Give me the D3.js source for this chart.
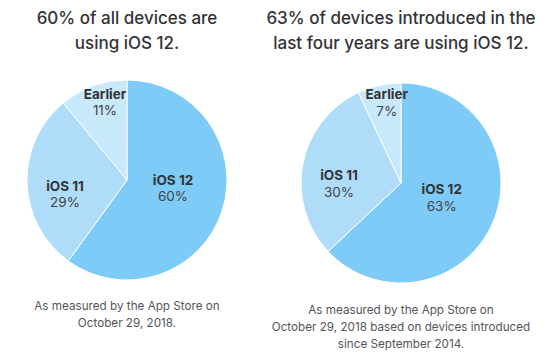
<!DOCTYPE html>
<html>
<head>
<meta charset="utf-8">
<script src="https://cdn.jsdelivr.net/npm/d3@7"></script>
<style>
  html, body { margin: 0; padding: 0; background: #fff; }
  svg { display: block; }
  text { font-family: Inter, "Liberation Sans", Arial, sans-serif; }
</style>
</head>
<body>
<svg id="chart" width="553" height="357"></svg>
<script>
// ---- Data ----
const categories = ["iOS 12", "iOS 11", "Earlier"];
const allDevices = [60, 29, 11];
const recentDevices = [63, 30, 7];
const titleLeft = ["60% of all devices are", "using iOS 12."];
const titleRight = ["63% of devices introduced in the", "last four years are using iOS 12."];
const noteLeft = ["As measured by the App Store on", "October 29, 2018."];
const noteRight = ["As measured by the App Store on", "October 29, 2018 based on devices introduced", "since September 2014."];

// ---- Layout / style ----
const colors = ["#7dcbf6", "#afdcf8", "#c8e8fb"];
const radius = 100;
const panels = [
  { values: allDevices, title: titleLeft, note: noteLeft, cx: 127, cy: 180, noteY: 310,
    labelOffsets: [[46, 4.5], [-62, 10.5], [-22, -81.3]] },
  { values: recentDevices, title: titleRight, note: noteRight, cx: 401, cy: 183, noteY: 313.5,
    labelOffsets: [[40.7, 11], [-62, -3], [-14.3, -83.7]] }
];

const svg = d3.select("#chart");
const pie = d3.pie().sort(null).value(d => d);
const arc = d3.arc().innerRadius(0).outerRadius(radius);
const color = d3.scaleOrdinal().domain(categories).range(colors);

panels.forEach(p => {
  const g = svg.append("g");

  // Title
  const title = g.append("text")
    .attr("text-anchor", "middle")
    .attr("fill", "#333336")
    .attr("font-size", 17)
    .attr("font-weight", 500);
  p.title.forEach((line, i) => {
    title.append("tspan").attr("x", p.cx).attr("y", 23.5 + i * 25).text(line);
  });

  // Pie
  const pg = g.append("g").attr("transform", `translate(${p.cx},${p.cy})`);
  const arcs = pie(p.values);
  pg.selectAll("path")
    .data(arcs)
    .join("path")
    .attr("d", arc)
    .attr("fill", (d, i) => color(categories[i]))
    .attr("stroke", "#ffffff")
    .attr("stroke-width", 1);

  // Labels
  const lab = pg.selectAll("g.lab")
    .data(arcs)
    .join("g")
    .attr("class", "lab")
    .attr("transform", (d, i) => `translate(${p.labelOffsets[i][0]},${p.labelOffsets[i][1]})`);
  lab.append("text")
    .attr("text-anchor", "middle")
    .attr("font-size", 13.5)
    .attr("font-weight", 700)
    .attr("fill", "#333336")
    .text((d, i) => categories[i]);
  lab.append("text")
    .attr("text-anchor", "middle")
    .attr("y", 16.5)
    .attr("font-size", 13.5)
    .attr("font-weight", 400)
    .attr("fill", "#444448")
    .text(d => d.data + "%");

  // Footnote
  const note = g.append("text")
    .attr("text-anchor", "middle")
    .attr("fill", "#555558")
    .attr("font-size", 11.7);
  p.note.forEach((line, i) => {
    note.append("tspan").attr("x", p.cx).attr("y", p.noteY + i * 17).text(line);
  });
});
</script>
</body>
</html>
